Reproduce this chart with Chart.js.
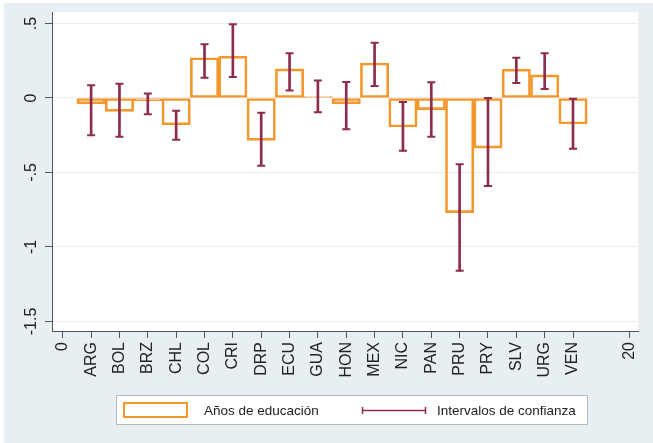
<!DOCTYPE html>
<html>
<head>
<meta charset="utf-8">
<script src="https://cdn.jsdelivr.net/npm/chart.js@4"></script>
<style>
  html, body { margin: 0; padding: 0; background: #fff; }
  #wrap { width: 653px; height: 443px; }
</style>
</head>
<body>
<div id="wrap"><canvas id="chart" width="653" height="443"></canvas></div>
<script>
const countries = ['ARG', 'BOL', 'BRZ', 'CHL', 'COL', 'CRI', 'DRP', 'ECU', 'GUA',
  'HON', 'MEX', 'NIC', 'PAN', 'PRU', 'PRY', 'SLV', 'URG', 'VEN']
const years = [-0.04, -0.09, -0.02, -0.18, 0.27, 0.28, -0.285, 0.195, 0.01,
  -0.04, 0.235, -0.195, -0.078, -0.77, -0.337, 0.193, 0.155, -0.175]
const ciLow = [-0.25, -0.26, -0.11, -0.28, 0.135, 0.14, -0.455, 0.05, -0.095,
  -0.21, 0.08, -0.355, -0.26, -1.16, -0.59, 0.1, 0.06, -0.34]
const ciHigh = [0.085, 0.095, 0.03, -0.085, 0.36, 0.495, -0.1, 0.3, 0.117,
  0.107, 0.37, -0.027, 0.105, -0.445, 0.0, 0.27, 0.3, -0.005]
const yTicks = [-1.5, -1, -0.5, 0, 0.5]
const yTickLabels = ['-1.5', '-1', '-.5', '0', '.5']
const xEnds = [0, 20]

const ORANGE = '#f4982e'
const MAROON = '#8c2c4e'
const FONT = "'Liberation Sans', Arial, sans-serif"

const barData = countries.map((c, i) => ({ x: i + 1, y: years[i] }))
const ciData = countries.map((c, i) => ({ x: i + 1, y: [ciLow[i], ciHigh[i]] }))
const capData = countries.flatMap((c, i) => [
  { x: i + 1, y: ciLow[i] },
  { x: i + 1, y: ciHigh[i] }
])

// light blue page, white plot region
const backdrop = {
  id: 'backdrop',
  beforeDraw (chart) {
    const { ctx, chartArea: a } = chart
    ctx.save()
    ctx.fillStyle = '#e8eff2'
    ctx.fillRect(4, 3, chart.width - 4, chart.height - 3)
    ctx.fillStyle = '#ffffff'
    ctx.fillRect(a.left, a.top, a.right - a.left, a.bottom - a.top)
    ctx.restore()
  }
}

// rotated y tick labels, centred on their ticks
const yLabels = {
  id: 'yLabels',
  afterDraw (chart) {
    const { ctx } = chart
    const scale = chart.scales.y
    ctx.save()
    ctx.fillStyle = '#222'
    ctx.font = `16px ${FONT}`
    ctx.textAlign = 'center'
    ctx.textBaseline = 'middle'
    yTicks.forEach((v, i) => {
      ctx.save()
      ctx.translate(32, scale.getPixelForValue(v))
      ctx.rotate(-Math.PI / 2)
      ctx.fillText(yTickLabels[i], 0, 0)
      ctx.restore()
    })
    ctx.restore()
  }
}

// boxed legend under the axis
const legendBox = {
  id: 'legendBox',
  afterDraw (chart) {
    const { ctx } = chart
    ctx.save()
    ctx.fillStyle = '#fff'
    ctx.fillRect(116, 395, 471, 29)
    ctx.strokeStyle = '#b4b8bb'
    ctx.lineWidth = 1
    ctx.strokeRect(116.5, 395.5, 471, 29)

    ctx.strokeStyle = ORANGE
    ctx.lineWidth = 2
    ctx.strokeRect(124, 403, 63, 14)

    ctx.strokeStyle = MAROON
    ctx.lineWidth = 1.5
    ctx.beginPath()
    ctx.moveTo(362, 410.5)
    ctx.lineTo(426, 410.5)
    ctx.moveTo(362.5, 407)
    ctx.lineTo(362.5, 414)
    ctx.moveTo(425.5, 407)
    ctx.lineTo(425.5, 414)
    ctx.stroke()

    ctx.fillStyle = '#222'
    ctx.font = `13.5px ${FONT}`
    ctx.textBaseline = 'middle'
    ctx.fillText('Años de educación', 204, 411)
    ctx.fillText('Intervalos de confianza', 437, 411)
    ctx.restore()
  }
}

new Chart(document.getElementById('chart'), {
  type: 'bar',
  data: {
    datasets: [
      {
        label: 'Años de educación',
        data: barData,
        backgroundColor: 'rgba(255,255,255,0)',
        borderColor: ORANGE,
        borderWidth: 2,
        borderSkipped: false,
        barPercentage: 1,
        categoryPercentage: 1,
        grouped: false,
        order: 3
      },
      {
        label: 'Intervalos de confianza',
        data: ciData,
        backgroundColor: MAROON,
        borderWidth: 0,
        barThickness: 2,
        grouped: false,
        order: 2
      },
      {
        type: 'scatter',
        data: capData,
        pointStyle: 'line',
        radius: 4,
        borderWidth: 2,
        borderColor: MAROON,
        order: 1
      }
    ]
  },
  options: {
    responsive: false,
    animation: false,
    events: [],
    layout: { padding: { left: 0, top: 12, right: 5, bottom: 0 } },
    plugins: {
      legend: { display: false },
      tooltip: { enabled: false }
    },
    scales: {
      x: {
        type: 'linear',
        offset: false,
        min: -0.38,
        max: 20.3,
        afterBuildTicks: (scale) => {
          scale.ticks = [...xEnds, ...countries.map((c, i) => i + 1)]
            .sort((a, b) => a - b)
            .map((value) => ({ value }))
        },
        afterFit: (scale) => { scale.height = 112 },
        ticks: {
          autoSkip: false,
          minRotation: 90,
          maxRotation: 90,
          padding: 4,
          color: '#222',
          font: { family: FONT, size: 16 },
          callback: (v) => (xEnds.includes(v) ? String(v) : countries[v - 1])
        },
        grid: {
          offset: false,
          drawOnChartArea: false,
          drawTicks: true,
          tickLength: 7,
          tickColor: '#555'
        },
        border: { display: true, color: '#555', width: 1 }
      },
      y: {
        min: -1.564,
        max: 0.577,
        afterBuildTicks: (scale) => {
          scale.ticks = yTicks.map((value) => ({ value }))
        },
        afterFit: (scale) => { scale.width = 52 },
        ticks: { display: false },
        grid: {
          color: '#ececec',
          lineWidth: 1,
          drawTicks: true,
          tickLength: 7,
          tickColor: '#555'
        },
        border: { display: true, color: '#555', width: 1 }
      }
    }
  },
  plugins: [backdrop, yLabels, legendBox]
})
</script>
</body>
</html>
